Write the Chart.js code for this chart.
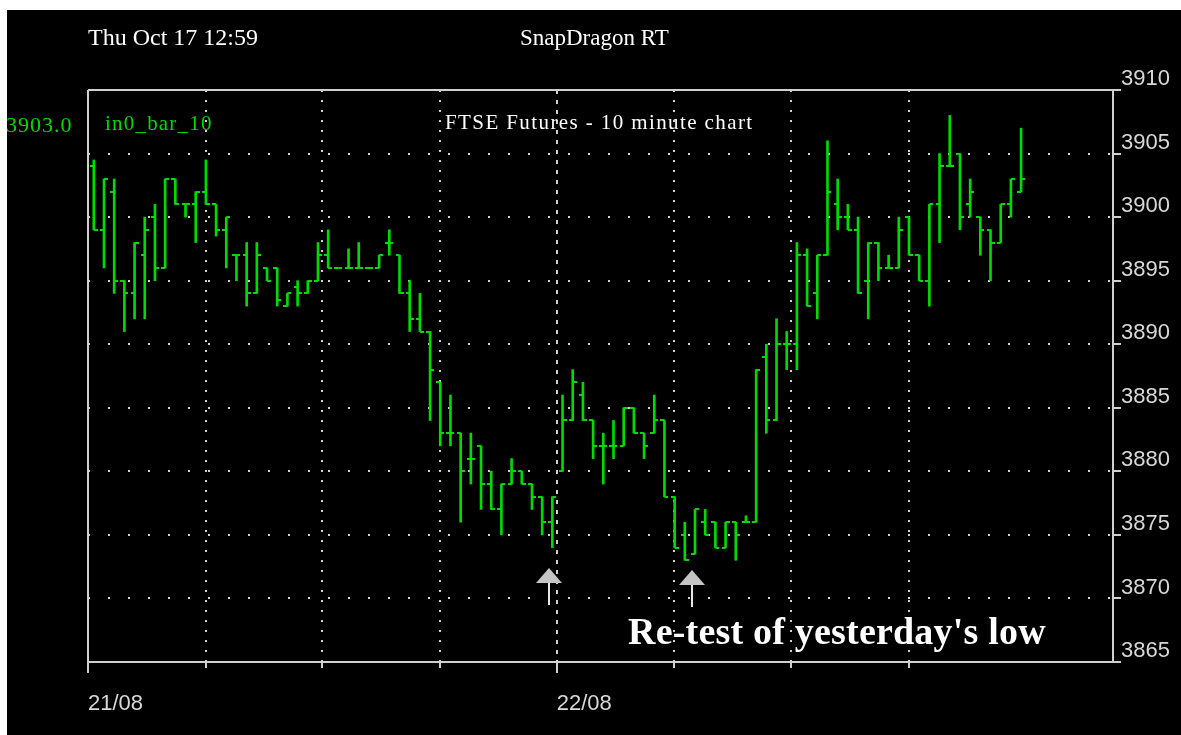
<!DOCTYPE html>
<html>
<head>
<meta charset="utf-8">
<title>FTSE Futures - 10 minute chart</title>
<script src="https://cdn.jsdelivr.net/npm/chart.js@4.4.1/dist/chart.umd.min.js"></script>
<style>
html, body { margin: 0; padding: 0; background: #fff; overflow: hidden; }
#wrap { position: relative; width: 1181px; height: 735px; }
#bg { position: absolute; left: 7px; top: 10px; right: 0; bottom: 0; background: #000; }
#chart { position: absolute; left: 0; top: 0; }
.t { position: absolute; white-space: nowrap; line-height: 1; font-family: 'Liberation Serif', 'Times New Roman', serif; color: #fff; }
.g { color: #00dc00; }
</style>
</head>
<body>
<div id="wrap">
    <div id="bg"></div>
    <canvas id="chart" width="1181" height="735"></canvas>
    <div class="t" style="left:88px; top:25px; font-size:24px;">Thu Oct 17 12:59</div>
    <div class="t" style="left:520px; top:26px; font-size:23px;">SnapDragon RT</div>
    <div class="t" style="left:445px; top:112px; font-size:21px; letter-spacing:1.4px;">FTSE Futures - 10 minute chart</div>
    <div class="t g" style="left:105px; top:113px; font-size:21px; letter-spacing:1.2px;">in0_bar_10</div>
    <div class="t g" id="last" style="left:6px; top:114px; font-size:22px; letter-spacing:1px;"></div>
    <div class="t" style="left:628px; top:612px; font-size:38px; font-weight:bold; letter-spacing:0.2px;">Re-test of yesterday's low</div>
</div>

<script>
// 10 minute bars, 21/08 - 22/08
var open = [3904, 3899, 3902, 3895, 3894, 3897, 3900, 3896, 3903, 3901,
    3901, 3902, 3901, 3899, 3897, 3897, 3894, 3896, 3896, 3893,
    3894.5, 3894, 3895, 3897, 3896, 3896, 3896, 3896, 3896, 3898,
    3897, 3894, 3892, 3891, 3887, 3883, 3883, 3881, 3882, 3879,
    3877, 3879, 3880, 3879, 3878, 3876, 3880, 3884, 3886, 3884,
    3882, 3882, 3882, 3885, 3883, 3883, 3884, 3878, 3875, 3873.5,
    3876, 3876, 3874, 3876, 3876, 3876, 3889, 3884, 3890, 3890,
    3897, 3894, 3897, 3901, 3900, 3899, 3895, 3898, 3896, 3896,
    3900, 3897, 3895, 3901, 3904, 3905, 3901, 3900, 3899, 3898,
    3901, 3902];
var high = [3904.5, 3903, 3903, 3895, 3898, 3900, 3901, 3903, 3903, 3901,
    3902, 3904.5, 3901, 3900, 3897, 3898, 3898, 3896, 3896, 3894,
    3895, 3895, 3898, 3899, 3896, 3897.5, 3898, 3896, 3897, 3899,
    3897, 3895, 3894, 3891, 3887, 3886, 3883, 3883, 3882, 3880,
    3879, 3881, 3880, 3879, 3878, 3878, 3886, 3888, 3887, 3884,
    3883, 3884, 3885, 3885, 3883, 3886, 3884, 3878, 3876, 3877,
    3877, 3876, 3876, 3876, 3876.5, 3888, 3890, 3892, 3891, 3898,
    3897.5, 3897, 3906, 3903, 3901, 3900, 3898, 3898, 3897, 3900,
    3900, 3897, 3901, 3905, 3908, 3905, 3903, 3900, 3899, 3901,
    3903, 3907];
var low = [3899, 3896, 3894, 3891, 3892, 3892, 3895, 3896, 3901, 3900,
    3898, 3901, 3898.5, 3896, 3895, 3893, 3894, 3895, 3893, 3893,
    3893, 3894, 3895, 3896, 3896, 3896, 3896, 3896, 3896, 3897,
    3894, 3891, 3891, 3884, 3882, 3882, 3876, 3879, 3877, 3877,
    3875, 3879, 3879, 3877, 3875, 3874, 3880, 3884, 3884, 3881,
    3879, 3881, 3882, 3883, 3881, 3883, 3878, 3874, 3873, 3873.5,
    3875, 3874, 3874, 3873, 3876, 3876, 3883, 3884, 3888, 3888,
    3893, 3892, 3897, 3899, 3899, 3894, 3892, 3895, 3896, 3896,
    3897, 3895, 3893, 3898, 3904, 3899, 3900, 3897, 3895, 3898,
    3900, 3902];
var close = [3899, 3903, 3895, 3894, 3898, 3899, 3896, 3903, 3901, 3901,
    3902, 3901, 3899, 3900, 3897, 3894, 3897, 3895, 3893.5, 3894,
    3894, 3895, 3897, 3896, 3896, 3896, 3896, 3896, 3897, 3898,
    3894, 3892, 3891, 3888, 3883, 3883, 3880, 3881, 3879, 3877,
    3879, 3880, 3879, 3878, 3876, 3878, 3884, 3887, 3884, 3882,
    3882, 3882, 3885, 3883, 3882, 3884, 3878, 3874, 3873, 3877,
    3875, 3874, 3876, 3875, 3876, 3888, 3884, 3890, 3890, 3897,
    3893, 3897, 3902, 3900, 3899, 3894, 3898, 3896, 3896, 3899,
    3897, 3895, 3901, 3904, 3904, 3900, 3902, 3899, 3898, 3901,
    3903, 3903];

// time grid (in bar units) and its labels
var gridX = [-0.57, 11.04, 22.42, 33.97, 45.43, 56.97, 68.39, 79.99];
var dayLabels = ['21/08', '', '', '', '22/08', '', '', ''];
var priceTicks = [3865, 3870, 3875, 3880, 3885, 3890, 3895, 3900, 3905, 3910];

// annotation arrows: bar position and tip price
var arrowX = [44.63, 58.75];
var arrowTip = [3872.4, 3872.2];

var GREEN = '#00dc00';
var FRAME = '#cfcfcf';
var DOT = '#d0d0d0';

document.getElementById('last').textContent = close[close.length - 1].toFixed(1);

function tickImage(side) {
    var c = document.createElement('canvas');
    c.width = 8;
    c.height = 2;
    var g = c.getContext('2d');
    g.fillStyle = GREEN;
    g.fillRect(side < 0 ? 0 : 4, 0, 4, 2);
    return c;
}

var idx = open.map(function(v, i) { return i; });

var overlay = {
    id: 'overlay',
    afterDraw: function(chart) {
        var ctx = chart.ctx, a = chart.chartArea, x = chart.scales.x, y = chart.scales.y;
        ctx.save();
        // top and left frame, short time ticks
        ctx.strokeStyle = FRAME;
        ctx.lineWidth = 2;
        ctx.beginPath();
        ctx.moveTo(a.left, a.top);
        ctx.lineTo(a.right, a.top);
        ctx.moveTo(a.left, a.top);
        ctx.lineTo(a.left, a.bottom + 11);
        gridX.forEach(function(v, i) {
            if (dayLabels[i]) return;
            var px = Math.round(x.getPixelForValue(v));
            ctx.moveTo(px, a.bottom);
            ctx.lineTo(px, a.bottom + 6);
        });
        ctx.stroke();
        // arrows
        arrowX.forEach(function(v, i) {
            var px = Math.round(x.getPixelForValue(v));
            var py = Math.round(y.getPixelForValue(arrowTip[i]));
            ctx.fillStyle = '#e6e6e6';
            ctx.fillRect(px - 1, py + 14, 2, 23);
            ctx.fillStyle = '#c4c4c4';
            ctx.beginPath();
            ctx.moveTo(px, py);
            ctx.lineTo(px + 13, py + 15);
            ctx.lineTo(px - 13, py + 15);
            ctx.closePath();
            ctx.fill();
        });
        ctx.restore();
    }
};

var labelFont = { family: "'Liberation Sans', Arial, sans-serif", size: 22 };

new Chart(document.getElementById('chart'), {
    type: 'bar',
    data: {
        datasets: [{
            type: 'bar',
            data: idx.map(function(i) { return { x: i, y: [low[i], high[i]] }; }),
            backgroundColor: GREEN,
            borderWidth: 0,
            barThickness: 2
        }, {
            type: 'line',
            showLine: false,
            data: idx.map(function(i) { return { x: i, y: open[i] }; }),
            pointStyle: tickImage(-1),
            pointRadius: 3
        }, {
            type: 'line',
            showLine: false,
            data: idx.map(function(i) { return { x: i, y: close[i] }; }),
            pointStyle: tickImage(1),
            pointRadius: 3
        }]
    },
    options: {
        responsive: false,
        animation: false,
        events: [],
        layout: { padding: { left: 88, top: 90, right: 0, bottom: 0 } },
        plugins: { legend: { display: false }, tooltip: { enabled: false } },
        scales: {
            x: {
                type: 'linear',
                min: -0.57,
                max: 100.02,
                offset: false,
                afterBuildTicks: function(scale) {
                    scale.ticks = gridX.map(function(v) { return { value: v }; });
                },
                afterFit: function(scale) { scale.height = 73; },
                grid: {
                    offset: false,
                    color: DOT,
                    lineWidth: 2,
                    tickLength: 11,
                    tickWidth: 2,
                    tickColor: function(c) { return dayLabels[c.index] ? FRAME : 'rgba(0,0,0,0)'; }
                },
                border: {
                    color: FRAME,
                    width: 2,
                    dash: function(c) { return c.index === 4 ? [4, 6] : [2, 8]; }
                },
                ticks: {
                    autoSkip: false,
                    maxRotation: 0,
                    align: 'start',
                    padding: 18,
                    color: '#d8d8d8',
                    font: labelFont,
                    callback: function(v, i) { return dayLabels[i]; }
                }
            },
            y: {
                position: 'right',
                min: 3865,
                max: 3910,
                afterBuildTicks: function(scale) {
                    scale.ticks = priceTicks.map(function(v) { return { value: v }; });
                },
                afterFit: function(scale) { scale.width = 68; },
                grid: {
                    color: function(c) {
                        return (c.tick && (c.tick.value === 3865 || c.tick.value === 3910)) ? 'rgba(0,0,0,0)' : DOT;
                    },
                    lineWidth: 2,
                    tickLength: 8,
                    tickWidth: 2,
                    tickColor: FRAME
                },
                border: { color: FRAME, width: 2, dash: [2, 18] },
                ticks: {
                    padding: 0,
                    labelOffset: -11,
                    color: '#d8d8d8',
                    font: labelFont,
                    callback: function(v) { return String(v); }
                }
            }
        }
    },
    plugins: [overlay]
});
</script>
</body>
</html>
